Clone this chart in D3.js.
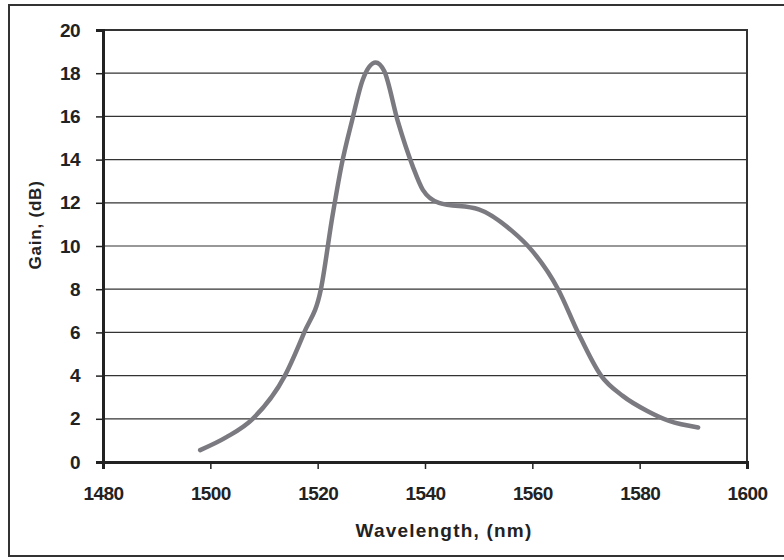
<!DOCTYPE html>
<html>
<head>
<meta charset="utf-8">
<script src="https://cdn.jsdelivr.net/npm/d3@7"></script>
<style>
  body { margin: 0; background: #fff; }
  text { font-family: "Liberation Sans", Arial, sans-serif; font-weight: bold; fill: #222; }
</style>
</head>
<body>
<svg width="784" height="560"></svg>
<script>
// gain curve
const wavelength = [1498.1, 1503, 1507.9, 1513.9, 1517.5, 1520.6, 1522.7, 1524.5, 1526.4, 1528.4, 1530.8,
  1532.4, 1534.9, 1537.7, 1539.6, 1542.6, 1550, 1556.2, 1559.9, 1564.8, 1568.5, 1572.8, 1576.9, 1581.5, 1585.5, 1590.9];
const gain = [0.55, 1.15, 2, 4, 6, 8, 11.3, 13.8, 15.8, 17.7, 18.5,
  18.1, 15.8, 13.7, 12.6, 12.0, 11.7, 10.7, 9.8, 8, 6, 4, 3.05, 2.35, 1.9, 1.6];
const xTicks = [1480, 1500, 1520, 1540, 1560, 1580, 1600];
const yTicks = [0, 2, 4, 6, 8, 10, 12, 14, 16, 18, 20];

const svg = d3.select('svg');

const plotLeft = 103, plotRight = 747, plotTop = 30, plotBottom = 462;

// outer frame
svg.append('rect')
  .attr('x', 9).attr('y', 5)
  .attr('width', 790).attr('height', 551)
  .attr('fill', 'none')
  .attr('stroke', '#333')
  .attr('stroke-width', 2);

const x = d3.scaleLinear().domain([1480, 1600]).range([plotLeft, plotRight]);
const y = d3.scaleLinear().domain([0, 20]).range([plotBottom, plotTop]);

// gridlines
svg.append('g')
  .selectAll('line')
  .data(yTicks.filter(d => d > 0))
  .join('line')
  .attr('x1', plotLeft).attr('x2', plotRight)
  .attr('y1', d => y(d)).attr('y2', d => y(d))
  .attr('stroke', '#333')
  .attr('stroke-width', 1.2);

// plot box, top and right
svg.append('path')
  .attr('d', `M${plotLeft},${plotTop}H${plotRight}V${plotBottom}`)
  .attr('fill', 'none')
  .attr('stroke', '#333')
  .attr('stroke-width', 2);

const xAxis = svg.append('g')
  .attr('transform', `translate(0,${plotBottom})`)
  .call(d3.axisBottom(x).tickValues(xTicks).tickFormat(d3.format('d')).tickSize(7).tickPadding(18));

const yAxis = svg.append('g')
  .attr('transform', `translate(${plotLeft},0)`)
  .call(d3.axisLeft(y).tickValues(yTicks).tickSize(7).tickPadding(16));

[xAxis, yAxis].forEach(a => {
  a.select('.domain').attr('stroke', '#222').attr('stroke-width', 3);
  a.selectAll('.tick line').attr('stroke', '#222').attr('stroke-width', 1.5);
  a.selectAll('.tick text')
    .attr('font-size', 19)
    .attr('letter-spacing', -0.6)
    .attr('font-family', '"Liberation Sans", Arial, sans-serif')
    .attr('font-weight', 'bold')
    .attr('fill', '#222');
});

// the gain curve
const line = d3.line()
  .x((d, i) => x(wavelength[i]))
  .y(d => y(d))
  .curve(d3.curveMonotoneX);

svg.append('path')
  .attr('d', line(gain))
  .attr('fill', 'none')
  .attr('stroke', '#7a7a80')
  .attr('stroke-width', 4.5)
  .attr('stroke-linecap', 'round');

// axis titles
svg.append('text')
  .attr('x', 444).attr('y', 537)
  .attr('text-anchor', 'middle')
  .attr('font-size', 19)
  .attr('letter-spacing', 1.2)
  .text('Wavelength, (nm)');

svg.append('text')
  .attr('transform', 'translate(41,225) rotate(-90)')
  .attr('text-anchor', 'middle')
  .attr('font-size', 17)
  .attr('letter-spacing', 0.8)
  .text('Gain, (dB)');
</script>
</body>
</html>
